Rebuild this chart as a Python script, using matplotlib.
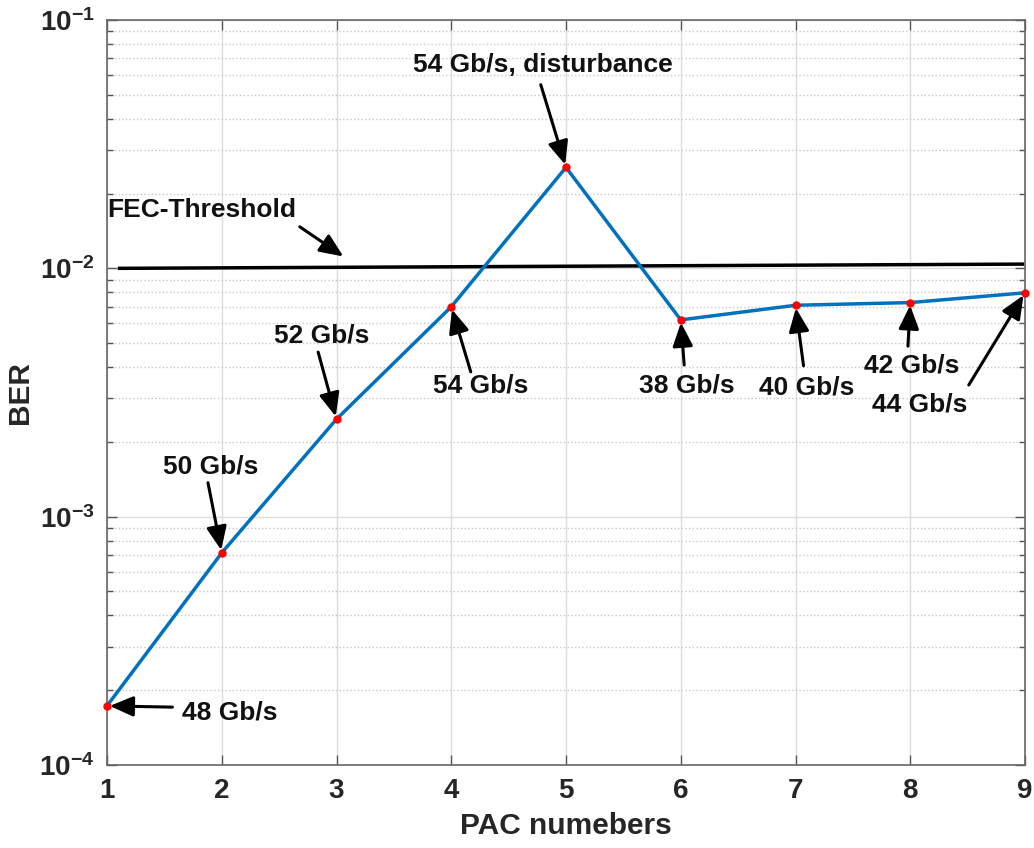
import numpy as np
import matplotlib
matplotlib.use('Agg')
import matplotlib.pyplot as plt

# BER measured per PAC number
pac = [1, 2, 3, 4, 5, 6, 7, 8, 9]
ber = [1.73e-4, 7.15e-4, 2.47e-3, 7.0e-3, 2.55e-2, 6.2e-3, 7.1e-3, 7.28e-3, 7.97e-3]

# FEC threshold line (drawn slightly tilted as in the measurement plot)
fec_x = [1.11, 8.98]
fec_y = [1.0e-2, 1.04e-2]

# annotation text, text position, arrow tail, arrow head
labels = ['48 Gb/s', '50 Gb/s', '52 Gb/s', '54 Gb/s', '54 Gb/s, disturbance',
          '38 Gb/s', '40 Gb/s', '42 Gb/s', '44 Gb/s']
label_pos = [(2.07, 1.63e-4), (1.90, 1.585e-3), (2.87, 5.35e-3), (4.26, 3.39e-3),
             (4.80, 6.59e-2), (6.05, 3.39e-3), (7.10, 3.30e-3), (8.01, 4.08e-3),
             (8.08, 2.82e-3)]
arrow_tail = [(1.57, 1.71e-4), (1.88, 1.37e-3), (2.84, 4.6e-3), (4.17, 3.83e-3),
              (4.78, 5.49e-2), (6.03, 4.08e-3), (7.07, 4.05e-3), (7.98, 4.86e-3),
              (8.51, 3.39e-3)]

plt.rcParams['font.family'] = ['Liberation Sans', 'DejaVu Sans']
plt.rcParams['font.weight'] = 'bold'
plt.rcParams['mathtext.fontset'] = 'custom'
plt.rcParams['mathtext.rm'] = 'Liberation Sans:bold'
plt.rcParams['mathtext.it'] = 'Liberation Sans:bold'
plt.rcParams['mathtext.bf'] = 'Liberation Sans:bold'

fig = plt.figure(figsize=(10.34, 8.48), dpi=100)
ax = fig.add_axes([107 / 1034, 83 / 848, 918 / 1034, 745 / 848])

ax.set_yscale('log')
ax.set_xlim(1, 9)
ax.set_ylim(1e-4, 1e-1)

ax.grid(True, which='major', axis='x', color='#dcdcdc', linestyle='-', linewidth=1)
ax.grid(True, which='major', axis='y', color='#dcdcdc', linestyle='-', linewidth=1)
ax.grid(True, which='minor', axis='y', color='#c8c8c8', linestyle=':', linewidth=1)
ax.set_axisbelow(True)

ax.plot(fec_x, fec_y, color='black', linewidth=2.5)
ax.plot(pac, ber, color='#0072BD', linewidth=2.5, zorder=3)
ax.plot(pac, ber, linestyle='none', marker='o', markersize=5,
        color='red', markeredgecolor='red', zorder=4, clip_on=False)

arrow_style = dict(arrowstyle='-|>,head_length=0.65,head_width=0.28', color='black',
                   linewidth=2.2, mutation_scale=22, shrinkA=0, shrinkB=2)
for i, lab in enumerate(labels):
    ax.text(label_pos[i][0], label_pos[i][1], lab, fontsize=19, fontweight='bold',
            ha='center', va='center', color='#111111')
    ax.annotate('', xy=(pac[i], ber[i]), xytext=arrow_tail[i],
                arrowprops=arrow_style)

ax.text(1.83, 1.72e-2, 'FEC-Threshold', fontsize=19, fontweight='bold',
        ha='center', va='center', color='#111111')
ax.annotate('', xy=(3.08, 1.10e-2), xytext=(2.68, 1.47e-2), arrowprops=arrow_style)

ax.set_xticks(pac)
ax.set_xticklabels([str(p) for p in pac])
ax.set_yticks([1e-4, 1e-3, 1e-2, 1e-1])
ax.set_yticklabels([r'$10^{-4}$', r'$10^{-3}$', r'$10^{-2}$', r'$10^{-1}$'])
ax.tick_params(axis='both', which='major', direction='in', length=7, width=1,
               labelsize=20, top=True, right=True, color='#555555',
               labelcolor='#262626', pad=9)
ax.tick_params(axis='y', which='minor', direction='in', length=4, width=1,
               right=True, color='#555555')
for side in ax.spines.values():
    side.set_color('#666666')
    side.set_linewidth(1.2)

ax.set_xlabel('PAC numebers', fontsize=21.5, fontweight='bold', labelpad=6,
              color='#262626')
ax.set_ylabel('BER', fontsize=21.5, fontweight='bold', labelpad=4,
              color='#262626')

fig.savefig('out.png', dpi=100)
